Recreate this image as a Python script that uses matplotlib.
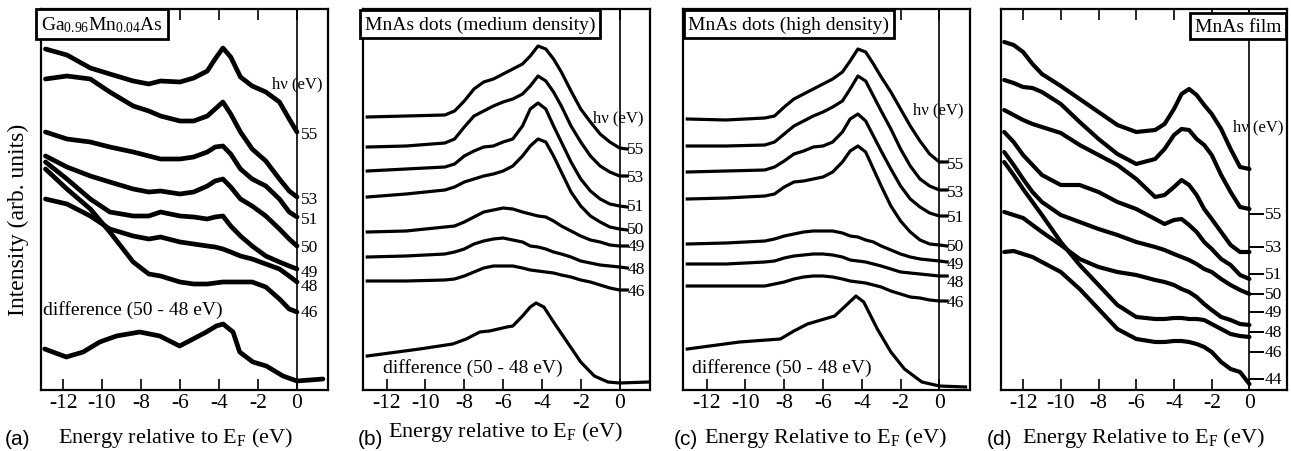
#!/usr/bin/env python3
"""Resonant photoemission spectra of GaMnAs, MnAs dots and MnAs film (4 panels)."""

import numpy as np
import matplotlib
matplotlib.use("Agg")
import matplotlib.pyplot as plt

plt.rcParams['font.family'] = ['Liberation Serif', 'DejaVu Serif']
plt.rcParams['mathtext.fontset'] = 'custom'
plt.rcParams['mathtext.rm'] = 'Liberation Serif'
plt.rcParams['mathtext.it'] = 'Liberation Serif:italic'
plt.rcParams['axes.unicode_minus'] = False

# * Data (energy in eV, intensity in arb. units)

hv_labels = ["55", "53", "51", "50", "49", "48", "46"]
hv_labels_d = ["55", "53", "51", "50", "49", "48", "46", "44"]

# Panel (a): Ga0.96Mn0.04As
e_a = [-12.9, -11.8, -10.6, -9.6, -8.4, -7.6, -7.0, -6.0, -5.3, -4.6,
       -4.2, -3.8, -3.4, -2.9, -2.3, -1.6, -0.9, -0.4, 0.0]
a_55 = [341, 335, 322, 316, 309, 306, 309, 308, 312, 319, 331, 342, 333, 313, 304, 298, 288, 271, 258]
a_53 = [311, 314, 311, 298, 284, 279, 274, 269, 269, 274, 281, 288, 276, 258, 241, 229, 211, 199, 193]
a_51 = [258, 251, 248, 243, 238, 234, 231, 231, 233, 238, 243, 244, 236, 221, 211, 204, 191, 178, 173]
a_50 = [234, 223, 214, 208, 201, 198, 199, 196, 198, 204, 209, 211, 203, 191, 184, 174, 161, 151, 144]
a_49 = [228, 211, 191, 178, 174, 174, 178, 174, 173, 171, 173, 174, 164, 154, 144, 134, 128, 124, 121]
a_48 = [191, 186, 174, 161, 154, 151, 153, 148, 146, 144, 143, 141, 138, 134, 131, 126, 121, 114, 108]
a_46 = [221, 201, 181, 158, 128, 116, 114, 108, 106, 106, 107, 108, 108, 108, 108, 103, 91, 81, 78]
e_a_diff = [-12.94, -11.83, -10.97, -10.12, -9.26, -8.07, -7.04, -6.02, -5.33, -4.65,
            -4.14, -3.79, -3.28, -2.94, -2.26, -1.57, -0.72, 0.0, 1.33]
a_diff = [41, 33, 38, 48, 54, 58, 54, 44, 51, 58, 64, 66, 58, 38, 28, 24, 14, 9, 11]

# Panels (b) and (c): MnAs dots, common energy grid
e_bc = [-13.0, -11.0, -9.0, -8.5, -8.0, -7.5, -7.0, -6.5, -6.0, -5.5, -5.0, -4.6,
        -4.2, -3.8, -3.4, -3.0, -2.5, -2.0, -1.5, -1.0, -0.5, 0.0, 0.4]
b_55 = [273, 274, 275, 279, 289, 301, 308, 311, 316, 321, 326, 334, 344, 341, 331, 318, 299, 281, 268, 256, 248, 242, 241]
b_53 = [243, 244, 247, 251, 263, 274, 279, 284, 288, 291, 296, 304, 314, 309, 298, 284, 264, 248, 234, 224, 218, 214, 214]
b_51 = [219, 221, 223, 226, 234, 239, 243, 244, 248, 251, 264, 281, 287, 281, 264, 248, 228, 211, 199, 191, 186, 184, 183]
b_50 = [193, 196, 200, 203, 208, 211, 214, 216, 219, 224, 234, 244, 251, 248, 234, 218, 198, 184, 174, 168, 163, 161, 160]
b_49 = [158, 159, 163, 164, 168, 173, 178, 180, 182, 181, 178, 176, 174, 173, 169, 164, 159, 154, 150, 148, 145, 144, 144]
b_48 = [133, 134, 136, 138, 141, 146, 149, 151, 152, 150, 148, 144, 143, 141, 138, 136, 133, 129, 127, 125, 124, 123, 122]
b_46 = [109, 109, 110, 111, 114, 118, 122, 124, 124, 124, 122, 120, 119, 118, 117, 115, 113, 110, 108, 105, 102, 100, 100]
e_b_diff = [-13.0, -10.3, -8.6, -7.9, -7.2, -6.7, -5.8, -5.5, -5.0, -4.6,
            -4.3, -3.9, -3.4, -2.7, -2.0, -1.3, -0.6, 0.0, 1.5]
b_diff = [34, 41, 46, 51, 58, 59, 63, 64, 74, 83, 87, 83, 68, 48, 28, 14, 8, 7, 8]

c_55 = [271, 270, 272, 274, 283, 291, 296, 301, 306, 311, 318, 329, 341, 338, 326, 313, 298, 281, 264, 249, 236, 228, 228]
c_53 = [244, 244, 245, 248, 256, 264, 269, 274, 278, 283, 289, 301, 314, 309, 294, 279, 261, 241, 224, 211, 204, 200, 200]
c_51 = [218, 219, 220, 223, 229, 236, 239, 243, 244, 248, 258, 271, 276, 269, 254, 239, 221, 204, 191, 183, 177, 174, 174]
c_50 = [191, 192, 194, 196, 203, 208, 209, 211, 213, 218, 228, 239, 244, 238, 221, 204, 184, 169, 158, 150, 146, 145, 144]
c_49 = [146, 147, 149, 151, 154, 156, 158, 159, 159, 159, 157, 154, 153, 150, 148, 144, 140, 136, 133, 131, 130, 129, 128]
c_48 = [126, 126, 128, 129, 132, 134, 135, 136, 136, 135, 133, 130, 129, 128, 126, 124, 121, 118, 117, 116, 115, 114, 114]
c_46 = [104, 104, 104, 106, 108, 111, 113, 114, 114, 113, 111, 109, 108, 107, 105, 103, 99, 96, 93, 92, 90, 89, 89]
e_c_diff = [-13.0, -10.3, -8.2, -7.5, -6.8, -6.1, -5.4, -4.9, -4.3, -3.9,
            -3.2, -2.5, -1.8, -0.9, 0.0, 1.35]
c_diff = [41, 48, 51, 59, 66, 70, 74, 83, 94, 88, 61, 38, 21, 8, 4, 3]

# Panel (d): MnAs film
e_d = [-13.0, -12.5, -12.0, -11.5, -11.0, -10.0, -9.0, -8.0, -7.0, -6.0, -5.0,
       -4.5, -4.0, -3.6, -3.2, -2.8, -2.4, -2.0, -1.5, -1.0, -0.5, 0.0]
d_55 = [348, 345, 338, 326, 316, 304, 291, 278, 265, 258, 260, 266, 281, 296, 301, 295, 285, 276, 261, 241, 223, 221]
d_53 = [310, 307, 303, 302, 298, 286, 268, 251, 236, 226, 231, 241, 255, 261, 260, 251, 245, 235, 215, 198, 183, 181]
d_51 = [280, 275, 270, 266, 263, 257, 245, 235, 225, 211, 193, 195, 203, 210, 205, 195, 181, 171, 158, 145, 138, 138]
d_50 = [258, 248, 235, 225, 215, 205, 205, 198, 188, 181, 171, 166, 170, 171, 165, 158, 148, 141, 131, 125, 115, 111]
d_49 = [238, 225, 211, 198, 188, 175, 168, 161, 155, 148, 143, 140, 136, 133, 130, 126, 121, 118, 111, 105, 100, 96]
d_48 = [178, 175, 172, 165, 158, 145, 131, 123, 118, 115, 110, 108, 105, 101, 98, 93, 86, 80, 73, 70, 66, 65]
d_46 = [228, 215, 201, 188, 175, 148, 125, 105, 85, 73, 71, 71, 72, 72, 71, 71, 70, 66, 61, 56, 54, 53]
d_44 = [138, 139, 136, 133, 128, 118, 101, 81, 61, 51, 48, 48, 49, 49, 48, 46, 43, 38, 28, 21, 18, 6]

# * Layout (pixels of the 1291x452 output)

W, H = 1291, 452
AX_BOTTOM, AX_TOP = 391, 10
YMAX = AX_BOTTOM - AX_TOP

fig = plt.figure(figsize=(W / 100, H / 100), dpi=100)


def fx(px):
    return px / W


def fy(py):
    return 1 - py / H


def make_axes(left, right, xlim):
    ax = fig.add_axes([fx(left), fy(AX_BOTTOM), (right - left) / W, YMAX / H])
    ax.set_xlim(*xlim)
    ax.set_ylim(0, YMAX)
    ax.set_yticks([])
    ax.set_xticks(range(-12, 1, 2))
    ax.set_xticklabels([str(t) for t in range(-12, 1, 2)])
    ax.tick_params(axis='x', direction='in', top=True, length=8, width=1.2,
                   labelsize=15.5, pad=2)
    for s in ax.spines.values():
        s.set_linewidth(1.6)
    ax.axvline(0, color='black', lw=1.2, zorder=1)
    return ax


def box_label(text, xc, yc):
    fig.text(fx(xc), fy(yc), text, fontsize=14, ha='center', va='center',
             bbox=dict(boxstyle='square,pad=0.25', fc='white', ec='black', lw=2.0),
             zorder=10)


def hv_text(ax, x_e, heights, labels, hv_pos):
    for h, lab in zip(heights, labels):
        ax.text(x_e, h, lab, fontsize=12.5, ha='left', va='center', clip_on=False)
    ax.text(hv_pos[0], hv_pos[1], "hν (eV)", fontsize=12, ha='center', va='center',
            clip_on=False)


def xlabel(text, x_left, ybase, tag, tag_x):
    fig.text(fx(x_left), fy(ybase), text, fontsize=16, ha='left', va='baseline')
    fig.text(fx(tag_x), fy(440), tag, fontsize=15, ha='center', va='center',
             family='Liberation Sans')


EF = r"E$_\mathrm{F}$"
DIFF = "difference (50 - 48 eV)"

# * Panel (a)
ax = make_axes(41, 328, (-13.13, 1.59))
for y in [a_55, a_53, a_51, a_50, a_49, a_48, a_46]:
    ax.plot(e_a, y, color='black', lw=3.4, solid_capstyle='round', solid_joinstyle='round')
ax.plot(e_a_diff, a_diff, color='black', lw=3.4, solid_capstyle='round', solid_joinstyle='round')
hv_text(ax, 0.2, [256, 191, 171, 143, 118, 104, 78], hv_labels, (0.0, 307))
ax.text(-13.05, 81, DIFF, fontsize=14, ha='left', va='center')
box_label(r"Ga$_\mathrm{0.96}$Mn$_\mathrm{0.04}$As", 102, 25)
xlabel("Energy relative to " + EF + " (eV)", 58, 443, "(a)", 18)

# * Panel (b)
ax = make_axes(363, 650, (-13.22, 1.57))
for y in [b_55, b_53, b_51, b_50, b_49, b_48, b_46]:
    ax.plot(e_bc, y, color='black', lw=2.3, solid_joinstyle='round')
ax.plot(e_b_diff, b_diff, color='black', lw=2.3, solid_joinstyle='round')
hv_text(ax, 0.4, [241, 213, 184, 161, 144, 121, 99], hv_labels, (-0.05, 273))
ax.text(-12.2, 23, DIFF, fontsize=14, ha='left', va='center')
box_label("MnAs dots (medium density)", 480, 25)
xlabel("Energy relative to " + EF + " (eV)", 388, 437, "(b)", 370)

# * Panel (c)
ax = make_axes(683, 970, (-13.22, 1.58))
for y in [c_55, c_53, c_51, c_50, c_49, c_48, c_46]:
    ax.plot(e_bc, y, color='black', lw=2.3, solid_joinstyle='round')
ax.plot(e_c_diff, c_diff, color='black', lw=2.3, solid_joinstyle='round')
hv_text(ax, 0.4, [226, 198, 173, 144, 126, 108, 88], hv_labels, (-0.05, 281))
ax.text(-12.76, 23, DIFF, fontsize=14, ha='left', va='center')
box_label("MnAs dots (high density)", 789, 25)
xlabel("Energy Relative to " + EF + " (eV)", 704, 443, "(c)", 686)

# * Panel (d)
ax = make_axes(1001, 1287, (-13.17, 1.99))
for y in [d_55, d_53, d_51, d_50, d_49, d_48, d_46, d_44]:
    ax.plot(e_d, y, color='black', lw=3.0, solid_capstyle='round', solid_joinstyle='round')
d_label_h = [176, 143, 116, 96, 78, 58, 38, 11]
hv_text(ax, 0.8, d_label_h, hv_labels_d, (0.45, 264))
# short leader dashes between the E=0 line and the photon-energy labels
for h in d_label_h:
    ax.plot([0.05, 0.7], [h, h], color='black', lw=1.4, clip_on=False)
box_label("MnAs film", 1238, 27)
xlabel("Energy Relative to " + EF + " (eV)", 1022, 443, "(d)", 999)

# * Common y label
fig.text(fx(18), fy(220), "Intensity (arb. units)", fontsize=17, rotation=90,
         ha='center', va='center')

fig.savefig("out.png", dpi=100)
